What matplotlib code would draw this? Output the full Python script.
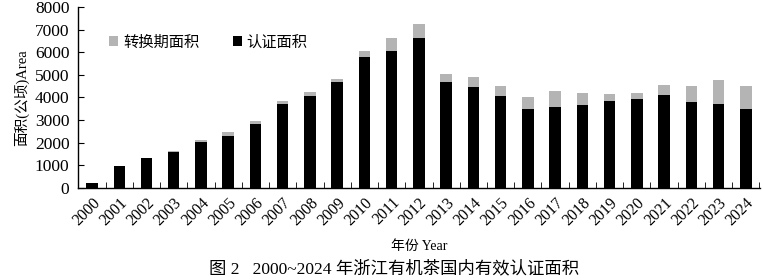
import matplotlib
matplotlib.use("Agg")
import matplotlib.pyplot as plt
import numpy as np

plt.rcParams['font.family'] = ['Liberation Serif', 'Noto Sans CJK SC']

years = [str(y) for y in range(2000, 2025)]
# 认证面积 (certified) and 转换期面积 (conversion) in hectares
certified = [220, 950, 1340, 1590, 2010, 2300, 2830, 3720, 4080, 4680, 5770,
             6050, 6640, 4670, 4450, 4050, 3480, 3570, 3660, 3830, 3950,
             4130, 3800, 3720, 3480]
total = [220, 950, 1340, 1620, 2130, 2450, 2970, 3860, 4230, 4820, 6050,
         6650, 7270, 5020, 4900, 4520, 4020, 4270, 4200, 4170, 4200,
         4550, 4490, 4760, 4520]
conversion = [t - c for t, c in zip(total, certified)]

fig = plt.figure(figsize=(7.63, 2.80), dpi=100)
ax = fig.add_axes([0.102, 0.329, 0.894, 0.646])

x = np.arange(len(years))
ax.bar(x, certified, width=0.42, color='black', label='认证面积', zorder=2)
ax.bar(x, conversion, width=0.42, bottom=certified, color='#b4b4b4',
       label='转换期面积', zorder=2)

ax.set_xlim(-0.52, len(years) - 0.48)
ax.set_ylim(0, 8000)
ax.set_yticks(range(0, 8001, 1000))
ax.tick_params(axis='y', direction='in', length=4, labelsize=12.5, pad=6)

ax.set_xticks(x)
ax.set_xticklabels(years, rotation=45, ha='right', rotation_mode='anchor',
                   fontsize=11.5)
ax.tick_params(axis='x', which='major', length=0, pad=5)
ax.set_xticks(np.arange(0.5, len(years), 1), minor=True)
ax.tick_params(axis='x', which='minor', direction='in', length=4)

for s in ['top', 'right']:
    ax.spines[s].set_visible(False)
ax.spines['left'].set_linewidth(1.0)
ax.spines['bottom'].set_linewidth(1.0)

ax.set_ylabel('面积(公顷)Area', fontsize=10.5, labelpad=4)
ax.set_xlabel('年份 Year', fontsize=10, labelpad=8)

h, l = ax.get_legend_handles_labels()
ax.legend(h[::-1], l[::-1], ncol=2, frameon=False, fontsize=11,
          loc='upper left', bbox_to_anchor=(0.026, 0.92),
          handlelength=0.6, handleheight=0.6, handletextpad=0.3,
          columnspacing=2.2)

fig.text(0.517, 0.04, '图 2   2000~2024 年浙江有机茶国内有效认证面积',
         ha='center', va='center', fontsize=12.5)

fig.savefig('out.png', dpi=100)
